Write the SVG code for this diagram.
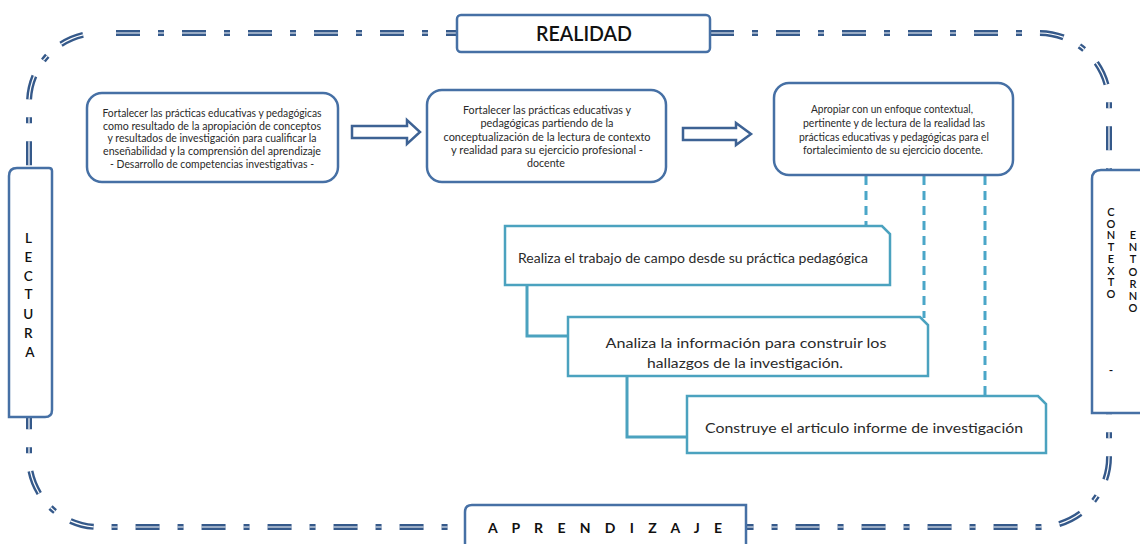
<svg xmlns="http://www.w3.org/2000/svg" width="1140" height="544" viewBox="0 0 1140 544">
<style>
.frame{fill:none;stroke:#35598a;stroke-width:6;stroke-dasharray:24 18 6 18;stroke-dashoffset:49}
.frame-in{fill:none;stroke:#ffffff;stroke-width:1.2;stroke-dasharray:24 18 6 18;stroke-dashoffset:49}
.box{fill:#ffffff;stroke:#4670a5;stroke-width:2.5}
.tbox{fill:#ffffff;stroke:#4ba2bf;stroke-width:2.5}
.arrow{fill:#ffffff;stroke:#3d6294;stroke-width:2.5;stroke-linejoin:miter}
.dash{fill:none;stroke:#4aa6c8;stroke-width:3;stroke-dasharray:9 6}
.conn{fill:none;stroke:#4ba2bf;stroke-width:3}
.t{font-family:Lato,"Liberation Sans",sans-serif;fill:#2a2a2a;text-anchor:middle;font-weight:400}
.s{font-size:10.5px}
.m{font-size:13.5px}
.cap{font-family:Lato,"Liberation Sans",sans-serif;fill:#111111;text-anchor:middle;font-weight:bold}
.capn{font-family:Lato,"Liberation Sans",sans-serif;fill:#111111;text-anchor:middle;font-weight:600}
.vert{font-family:Lato,"Liberation Sans",sans-serif;fill:#111111;font-weight:600;writing-mode:vertical-rl;text-orientation:upright}
</style>

<g id="frame">
  <rect x="29" y="33" width="1080" height="494" rx="70" ry="70" class="frame"/>
  <rect x="29" y="33" width="1080" height="494" rx="70" ry="70" class="frame-in"/>
</g>

<g id="connectors">
  <path class="arrow" d="M352,126 H407 V120 L420,132 L407,144 V138 H352 Z"/>
  <path class="arrow" d="M683,128 H736 V123 L751,134 L736,145 V140 H683 Z"/>
  <path class="dash" d="M866,176 V226"/>
  <path class="dash" d="M924,176 V318"/>
  <path class="dash" d="M985,176 V395"/>
  <path class="conn" d="M527,285 V336 H568"/>
  <path class="conn" d="M627,376 V437 H687"/>
</g>

<g id="realidad">
  <rect x="457" y="15" width="253" height="37" rx="4" class="box"/>
  <text class="capn" x="584" y="41" font-size="21" textLength="96" lengthAdjust="spacingAndGlyphs">REALIDAD</text>
</g>

<g id="aprendizaje">
  <path class="box" d="M465,546 V512 Q465,505 472,505 H746 V546"/>
  <text class="cap" x="605" y="533" font-size="14" textLength="234" lengthAdjust="spacing">A P R E N D I Z A J E</text>
</g>

<g id="lectura">
  <path class="box" d="M9,417 V176 Q9,168 17,168 H49 Q52,168 52,171 V410 Q52,417 45,417 Z"/>
  <text class="capn" font-size="13.5">
    <tspan x="30" y="243">L</tspan>
    <tspan x="30" y="262">E</tspan>
    <tspan x="30" y="281">C</tspan>
    <tspan x="30" y="299">T</tspan>
    <tspan x="30" y="319">U</tspan>
    <tspan x="30" y="338">R</tspan>
    <tspan x="30" y="357">A</tspan>
  </text>
</g>

<g id="contexto">
  <path class="box" d="M1146,170 H1101 Q1092,170 1092,179 V413 H1146"/>
  <text class="vert" x="1111" y="205" font-size="11" letter-spacing="-1.3">CONTEXTO</text>
  <text class="capn" x="1111" y="374" font-size="12">-</text>
  <text class="vert" x="1133" y="228" font-size="11" letter-spacing="-0.8">ENTORNO</text>
</g>

<g id="box1">
  <rect x="87" y="93" width="251" height="89" rx="15" class="box"/>
  <text class="t s" x="212" y="117" textLength="219" lengthAdjust="spacingAndGlyphs">Fortalecer las prácticas educativas y pedagógicas</text>
  <text class="t s" x="212" y="130" textLength="218" lengthAdjust="spacingAndGlyphs">como resultado de la apropiación de conceptos</text>
  <text class="t s" x="212" y="142" textLength="209" lengthAdjust="spacingAndGlyphs">y resultados de investigación para cualificar la</text>
  <text class="t s" x="212" y="155" textLength="218" lengthAdjust="spacingAndGlyphs">enseñabilidad y la comprensión del aprendizaje</text>
  <text class="t s" x="212" y="168" textLength="204" lengthAdjust="spacingAndGlyphs">- Desarrollo de competencias investigativas -</text>
</g>

<g id="box2">
  <rect x="427" y="90" width="239" height="92" rx="15" class="box"/>
  <text class="t s" x="547" y="114" textLength="168" lengthAdjust="spacingAndGlyphs">Fortalecer las prácticas educativas y</text>
  <text class="t s" x="547" y="127" textLength="133" lengthAdjust="spacingAndGlyphs">pedagógicas partiendo de la</text>
  <text class="t s" x="547" y="141" textLength="207" lengthAdjust="spacingAndGlyphs">conceptualización de la lectura de contexto</text>
  <text class="t s" x="547" y="154" textLength="192" lengthAdjust="spacingAndGlyphs">y realidad para su ejercicio profesional -</text>
  <text class="t s" x="546" y="167" textLength="38" lengthAdjust="spacingAndGlyphs">docente</text>
</g>

<g id="box3">
  <rect x="774" y="83" width="239" height="92" rx="15" class="box"/>
  <text class="t s" x="892" y="113" textLength="162" lengthAdjust="spacingAndGlyphs">Apropiar con un enfoque contextual,</text>
  <text class="t s" x="894" y="127" textLength="182" lengthAdjust="spacingAndGlyphs">pertinente y de lectura de la realidad las</text>
  <text class="t s" x="894" y="141" textLength="190" lengthAdjust="spacingAndGlyphs">prácticas educativas y pedagógicas para el</text>
  <text class="t s" x="893" y="154" textLength="180" lengthAdjust="spacingAndGlyphs">fortalecimiento de su ejercicio docente.</text>
</g>

<g id="box4">
  <path class="tbox" d="M505,226 H882 L890,234 V285 H505 Z"/>
  <text class="t" x="693" y="263" font-size="13" textLength="350" lengthAdjust="spacingAndGlyphs">Realiza el trabajo de campo desde su práctica pedagógica</text>
</g>

<g id="box5">
  <path class="tbox" d="M568,317 H920 L928,325 V376 H568 Z"/>
  <text class="t m" x="746" y="348" textLength="281" lengthAdjust="spacingAndGlyphs">Analiza la información para construir los</text>
  <text class="t m" x="745" y="368" textLength="196" lengthAdjust="spacingAndGlyphs">hallazgos de la investigación.</text>
</g>

<g id="box6">
  <path class="tbox" d="M687,396 H1038 L1046,404 V453 H687 Z"/>
  <text class="t m" x="864" y="433" textLength="318" lengthAdjust="spacingAndGlyphs">Construye el articulo informe de investigación</text>
</g>
</svg>
